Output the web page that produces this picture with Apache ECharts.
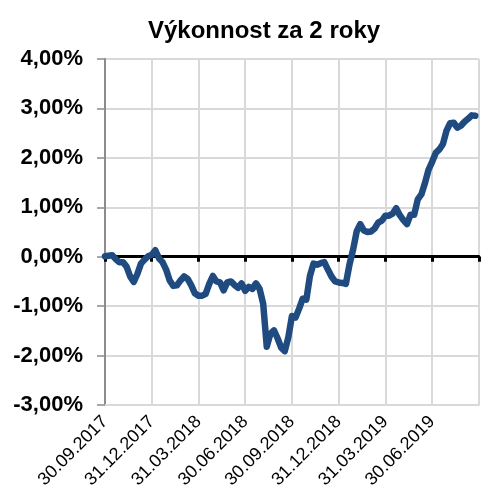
<!DOCTYPE html>
<html>
<head>
<meta charset="utf-8">
<script src="https://cdn.jsdelivr.net/npm/echarts@6/dist/echarts.min.js"></script>
<style>
html,body{margin:0;padding:0;background:#fff;}
#chart{width:481px;height:494px;}
</style>
</head>
<body>
<div id="chart"></div>
<script>
// Tick labels shown on the x axis (quarter ends), one every 13 weekly points
const tickLabels = ['30.09.2017','31.12.2017','31.03.2018','30.06.2018','30.09.2018','31.12.2018','31.03.2019','30.06.2019'];
const pointsPerQuarter = 13;
const categoryCount = 105;
// Weekly performance values (%)
const values = [
  0.01, 0.02, 0.03, -0.05, -0.11, -0.11, -0.20, -0.40, -0.51, -0.35,
  -0.14, -0.06, 0.01, 0.04, 0.13, -0.03, -0.11, -0.26, -0.48, -0.59,
  -0.58, -0.48, -0.40, -0.45, -0.58, -0.74, -0.79, -0.79, -0.75, -0.55,
  -0.39, -0.50, -0.52, -0.68, -0.52, -0.50, -0.57, -0.63, -0.54, -0.69,
  -0.61, -0.65, -0.54, -0.65, -0.95, -1.82, -1.56, -1.49, -1.65, -1.84,
  -1.91, -1.63, -1.20, -1.23, -1.05, -0.85, -0.87, -0.39, -0.14, -0.16,
  -0.13, -0.11, -0.26, -0.40, -0.50, -0.52, -0.53, -0.55, -0.16, 0.14,
  0.51, 0.66, 0.53, 0.50, 0.51, 0.57, 0.69, 0.73, 0.83, 0.83,
  0.87, 0.98, 0.84, 0.74, 0.66, 0.85, 0.85, 1.16, 1.26, 1.49,
  1.76, 1.92, 2.10, 2.17, 2.28, 2.55, 2.70, 2.71, 2.61, 2.65,
  2.73, 2.79, 2.86, 2.85
];
const categories = [];
for (let i = 0; i < categoryCount; i++) categories.push(String(i));

const FONT = 'Liberation Sans, Arial, sans-serif';
const chart = echarts.init(document.getElementById('chart'), null, {renderer: 'canvas'});
chart.setOption({
  animation: false,
  backgroundColor: '#ffffff',
  title: {
    text: 'Výkonnost za 2 roky',
    left: 143, top: 14,
    textStyle: {fontFamily: FONT, fontSize: 24, fontWeight: 'bold', color: '#000'}
  },
  grid: {left: 105, right: 0, top: 59, bottom: 89},
  xAxis: [
    {
      type: 'category', data: categories, boundaryGap: false, position: 'bottom',
      axisLine: {onZero: false, lineStyle: {color: '#d9d9d9', width: 2}},
      axisTick: {show: false},
      axisLabel: {
        interval: pointsPerQuarter - 1, rotate: 45, margin: 14,
        fontFamily: FONT, fontSize: 18, color: '#000',
        formatter: function (v, idx) {
          const q = idx / pointsPerQuarter;
          return (idx % pointsPerQuarter === 0 && tickLabels[q]) ? tickLabels[q] : '';
        }
      },
      splitLine: {show: true, interval: pointsPerQuarter - 1, lineStyle: {color: '#d9d9d9', width: 2}}
    },
    {
      type: 'category', data: categories, boundaryGap: false, position: 'bottom',
      axisLine: {onZero: true, lineStyle: {color: '#000', width: 3}},
      axisTick: {show: true, interval: pointsPerQuarter - 1, length: 5, lineStyle: {color: '#000', width: 3}},
      axisLabel: {show: false},
      splitLine: {show: false}
    }
  ],
  yAxis: {
    type: 'value', min: -3, max: 4, interval: 1,
    axisLine: {show: true, lineStyle: {color: '#8c8c8c', width: 2}},
    axisTick: {show: true, length: 8, lineStyle: {color: '#8c8c8c', width: 1.5}},
    axisLabel: {
      margin: 22, fontFamily: FONT, fontSize: 22, fontWeight: 'bold', color: '#000',
      formatter: function (v) { return v.toFixed(2).replace('.', ',') + '%'; }
    },
    splitLine: {show: true, lineStyle: {color: '#d9d9d9', width: 2}}
  },
  series: [{
    type: 'line', data: values, xAxisIndex: 0, showSymbol: false, smooth: false,
    lineStyle: {color: '#1F4B80', width: 6.5, join: 'round', cap: 'round'},
    z: 3
  }]
});
</script>
</body>
</html>
